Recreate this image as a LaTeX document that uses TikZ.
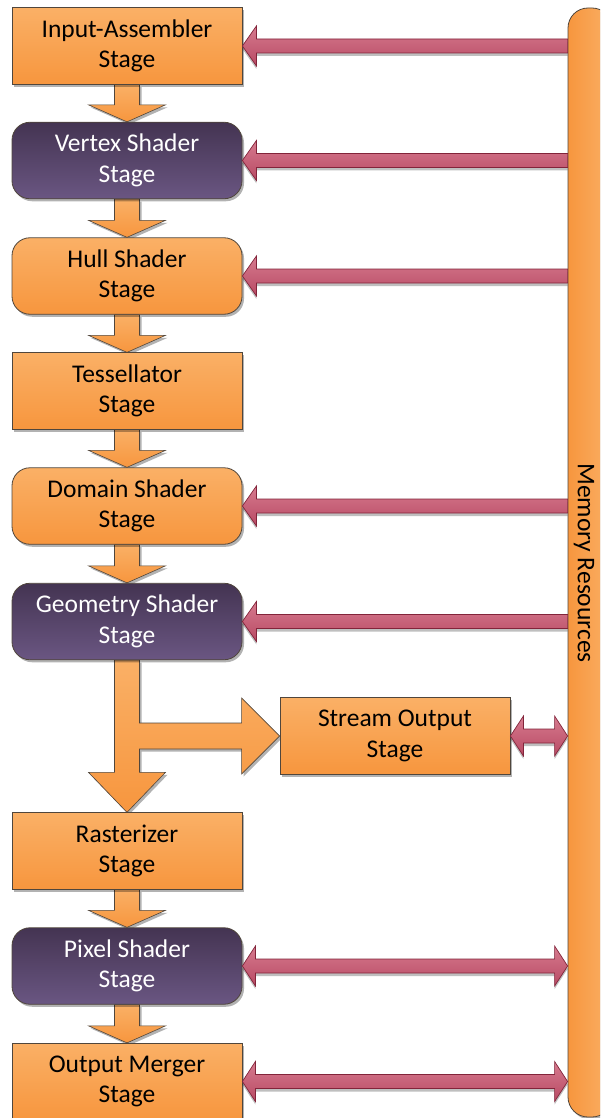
\documentclass[tikz,border=0pt]{standalone}
\usepackage{fontspec}
\setmainfont{Carlito}
\usetikzlibrary{calc,shadows}
\pgfdeclarelayer{bg}
\pgfsetlayers{bg,main}
\definecolor{orTop}{RGB}{250,176,102}
\definecolor{orBot}{RGB}{247,150,62}
\definecolor{puTop}{RGB}{68,52,82}
\definecolor{puBot}{RGB}{106,86,130}
\definecolor{pkTop}{RGB}{214,122,142}
\definecolor{pkBot}{RGB}{184,74,100}
\definecolor{pkLine}{RGB}{130,36,58}
\definecolor{edge}{RGB}{80,70,60}
\tikzset{
  shad/.style={drop shadow={shadow xshift=2pt,shadow yshift=-2.5pt,opacity=0.3,fill=black}},
  stagebox/.style={shad,draw=edge,line width=0.8pt,minimum width=230pt,minimum height=76.5pt,
    inner sep=0pt,align=center,font=\fontsize{25.5}{30.5}\selectfont},
  orbox/.style={stagebox,top color=orTop,bottom color=orBot,text=black},
  pubox/.style={stagebox,top color=puTop,bottom color=puBot,text=white,rounded corners=18pt},
  orround/.style={orbox,rounded corners=18pt},
  blockarrow/.style={shad,draw=edge,line width=0.6pt,top color=orTop,bottom color=orBot},
  pinkarrow/.style={drop shadow={shadow xshift=0pt,shadow yshift=-3pt,opacity=0.25,fill=black},
    draw=pkLine,line width=0.7pt,top color=pkTop,bottom color=pkBot},
}
\newcommand\memin[1]{%
  \path[pinkarrow] let \p1=(#1.east), \p2=(mem.west) in
    (\x2,\y1+7pt) -- (\x1+14pt,\y1+7pt) -- (\x1+14pt,\y1+20pt) -- (\x1,\y1)
    -- (\x1+14pt,\y1-20pt) -- (\x1+14pt,\y1-7pt) -- (\x2,\y1-7pt) -- cycle;}
\newcommand\memboth[1]{%
  \path[pinkarrow] let \p1=(#1.east), \p2=(mem.west) in
    (\x1,\y1) -- (\x1+13pt,\y1+20pt) -- (\x1+13pt,\y1+7pt) -- (\x2-13pt,\y1+7pt)
    -- (\x2-13pt,\y1+20pt) -- (\x2,\y1) -- (\x2-13pt,\y1-20pt) -- (\x2-13pt,\y1-7pt)
    -- (\x1+13pt,\y1-7pt) -- (\x1+13pt,\y1-20pt) -- cycle;}
\newcommand\downarr[2]{%
  \path[blockarrow] let \p1=(#1.south), \p2=(#2.north) in
    (\x1-12.5pt,\y1) -- (\x1-12.5pt,\y2+17pt) -- (\x1-38.5pt,\y2+17pt) -- (\x2,\y2)
    -- (\x1+38.5pt,\y2+17pt) -- (\x1+12.5pt,\y2+17pt) -- (\x1+12.5pt,\y1) -- cycle;}
\begin{document}
\begin{tikzpicture}[x=1pt,y=-1pt]
\useasboundingbox (0,0) rectangle (600,1118);
\clip (0,0) rectangle (600,1118);
% memory bar
\node[shad,draw=edge,line width=0.8pt,rounded corners=20pt,left color=orBot,right color=orTop,
  minimum width=44pt,minimum height=1109pt,inner sep=0pt] (mem) at (590,562.5) {};
\node[rotate=-90,font=\fontsize{25.5}{30}\selectfont] (memtext) at (584,563) {Memory Resources};
% stages
\node[orbox]   (ia) at (127,46)    {Input-Assembler\\Stage};
\node[pubox]   (vs) at (127,160.5) {Vertex Shader\\Stage};
\node[orround] (hs) at (127,276)   {Hull Shader\\Stage};
\node[orbox]   (ts) at (127,391)   {Tessellator\\Stage};
\node[orround] (ds) at (127,506)   {Domain Shader\\Stage};
\node[pubox]   (gs) at (127,621.5) {Geometry Shader\\Stage};
\node[orbox]   (so) at (395,736)   {Stream Output\\Stage};
\node[orbox]   (ra) at (127,851)   {Rasterizer\\Stage};
\node[pubox]   (ps) at (127,966)   {Pixel Shader\\Stage};
\node[orbox]   (om) at (127,1081.5) {Output Merger\\Stage};
\begin{pgfonlayer}{bg}
\downarr{ia}{vs}
\downarr{vs}{hs}
\downarr{hs}{ts}
\downarr{ts}{ds}
\downarr{ds}{gs}
\downarr{ra}{ps}
\downarr{ps}{om}
\path[blockarrow] let \p1=(gs.south), \p2=(ra.north), \p3=(so.west) in
  (\x1-12.5pt,\y1) -- (\x1-12.5pt,\y2+40pt) -- (\x1-38.5pt,\y2+40pt) -- (\x2,\y2)
  -- (\x1+38.5pt,\y2+40pt) -- (\x1+12.5pt,\y2+40pt) -- (\x1+12.5pt,\y3-13pt)
  -- (\x3-38pt,\y3-13pt) -- (\x3-38pt,\y3-38pt) -- (\x3,\y3) -- (\x3-38pt,\y3+38pt)
  -- (\x3-38pt,\y3+13pt) -- (\x1+12.5pt,\y3+13pt) -- (\x1+12.5pt,\y1) -- cycle;
\end{pgfonlayer}
\memin{ia}
\memin{vs}
\memin{hs}
\memin{ds}
\memin{gs}
\memboth{so}
\memboth{ps}
\memboth{om}
\end{tikzpicture}
\end{document}
